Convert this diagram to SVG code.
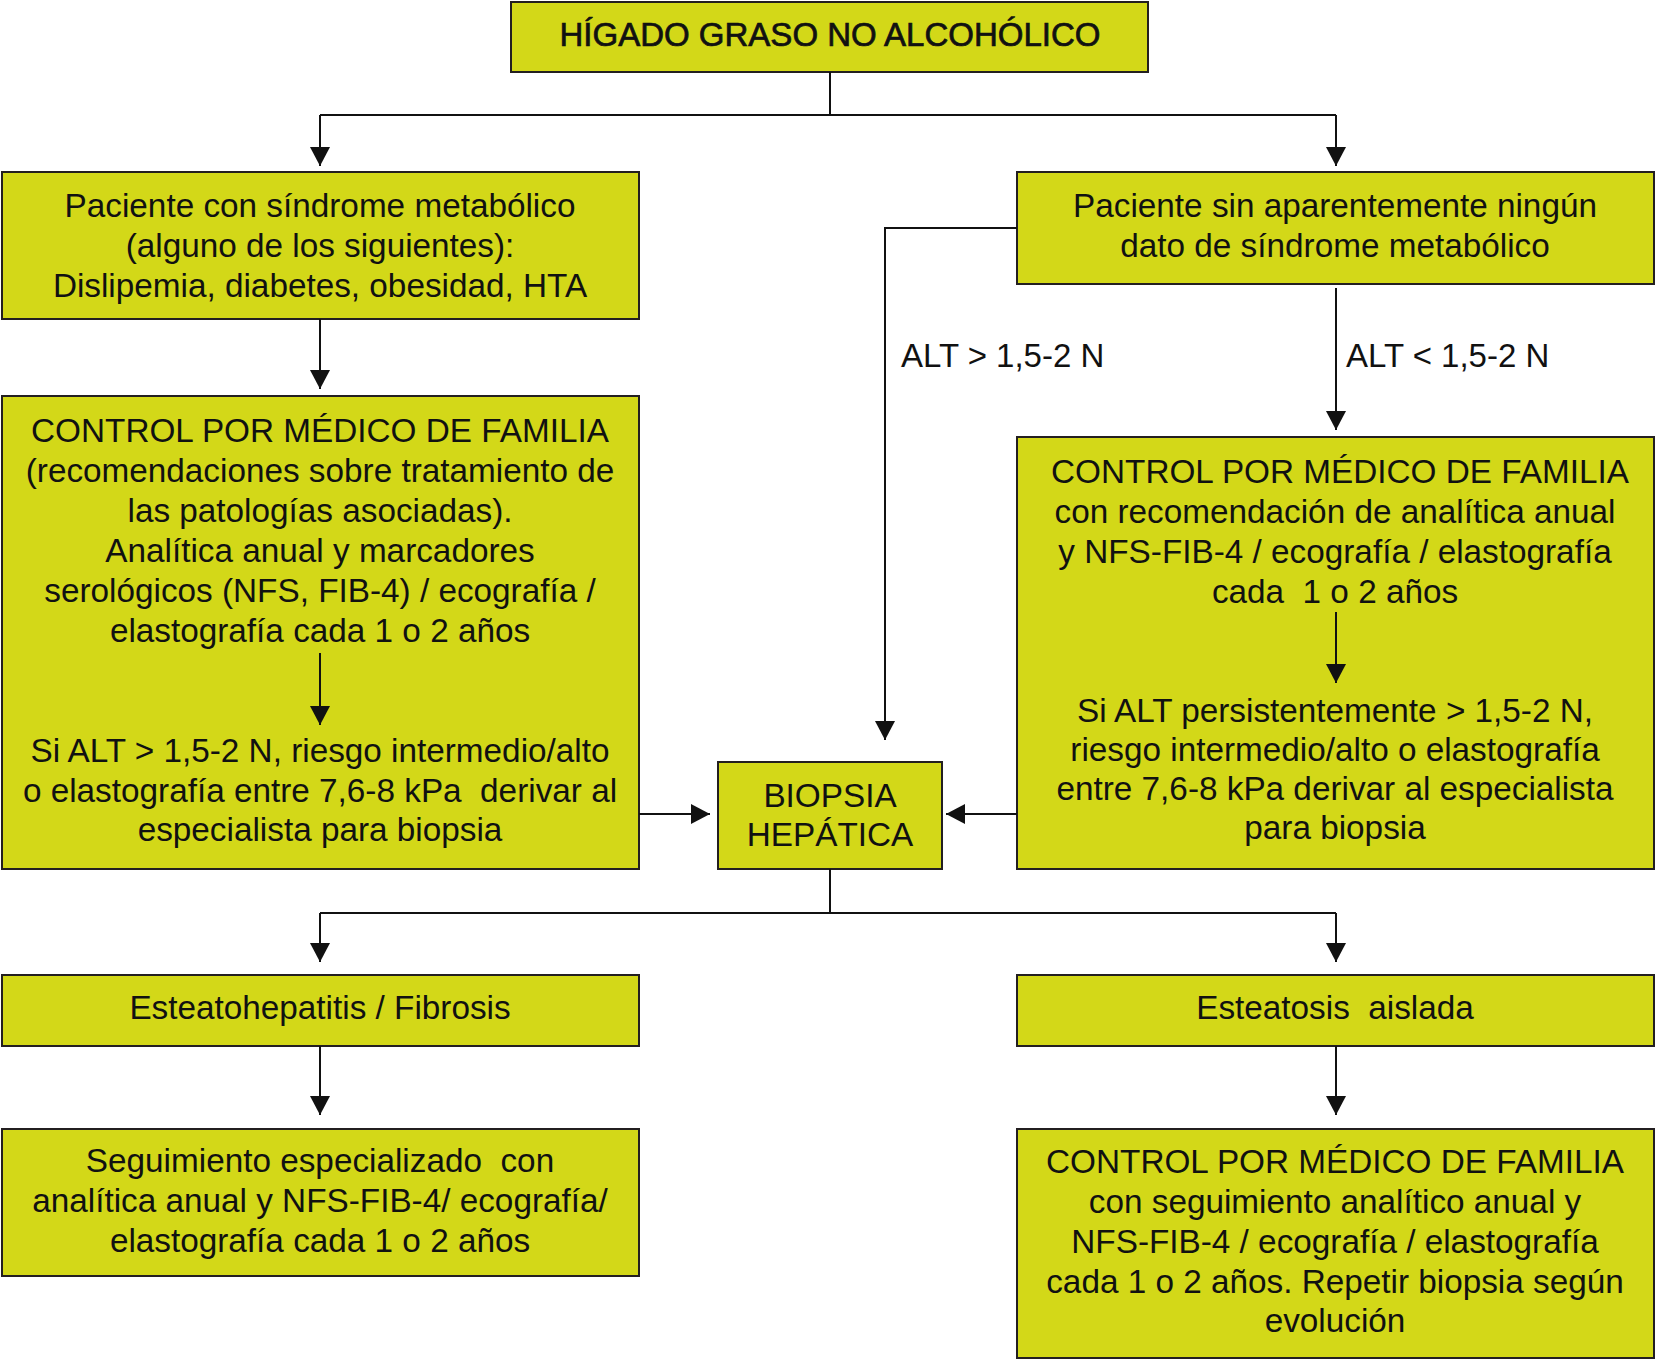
<svg xmlns="http://www.w3.org/2000/svg" width="1656" height="1360" viewBox="0 0 1656 1360">
<style>
.box{fill:#d3d818;stroke:#231f20;stroke-width:2}
.t{font-family:"Liberation Sans",Arial,sans-serif;font-size:33.3px;fill:#111;text-anchor:middle;white-space:pre}
.title{stroke:#111;stroke-width:0.7;font-size:33px}
.lbl{font-family:"Liberation Sans",Arial,sans-serif;font-size:33px;fill:#111}
.c{fill:none;stroke:#111;stroke-width:2}
</style>
<defs>
<marker id="ah" markerUnits="userSpaceOnUse" markerWidth="20" markerHeight="20" refX="19" refY="10" orient="auto">
<path d="M0,0 L19,10 L0,20 z" fill="#111"/>
</marker>
</defs>
<rect width="1656" height="1360" fill="#fff"/>
<g id="n_title">
<rect class="box" x="511" y="2" width="637" height="70"/>
<text class="t title" x="830" y="46">HÍGADO GRASO NO ALCOHÓLICO</text>
</g>
<g id="n_metabolico">
<rect class="box" x="2" y="172" width="637" height="147"/>
<text class="t" x="320" y="217">Paciente con síndrome metabólico</text>
<text class="t" x="320" y="257">(alguno de los siguientes):</text>
<text class="t" x="320" y="297">Dislipemia, diabetes, obesidad, HTA</text>
</g>
<g id="n_sin_metabolico">
<rect class="box" x="1017" y="172" width="637" height="112"/>
<text class="t" x="1335" y="217">Paciente sin aparentemente ningún</text>
<text class="t" x="1335" y="257">dato de síndrome metabólico</text>
</g>
<g id="n_control_left">
<rect class="box" x="2" y="396" width="637" height="473"/>
<text class="t" x="320" y="442">CONTROL POR MÉDICO DE FAMILIA</text>
<text class="t" x="320" y="482">(recomendaciones sobre tratamiento de</text>
<text class="t" x="320" y="522">las patologías asociadas).</text>
<text class="t" x="320" y="562">Analítica anual y marcadores</text>
<text class="t" x="320" y="602">serológicos (NFS, FIB-4) / ecografía /</text>
<text class="t" x="320" y="642">elastografía cada 1 o 2 años</text>
<text class="t" x="320" y="762">Si ALT &gt; 1,5-2 N, riesgo intermedio/alto</text>
<text class="t" x="320" y="802">o elastografía entre 7,6-8 kPa  derivar al</text>
<text class="t" x="320" y="841">especialista para biopsia</text>
</g>
<g id="n_control_right">
<rect class="box" x="1017" y="437" width="637" height="432"/>
<text class="t" x="1340" y="483">CONTROL POR MÉDICO DE FAMILIA</text>
<text class="t" x="1335" y="523">con recomendación de analítica anual</text>
<text class="t" x="1335" y="563">y NFS-FIB-4 / ecografía / elastografía</text>
<text class="t" x="1335" y="603">cada  1 o 2 años</text>
<text class="t" x="1335" y="722">Si ALT persistentemente &gt; 1,5-2 N,</text>
<text class="t" x="1335" y="761">riesgo intermedio/alto o elastografía</text>
<text class="t" x="1335" y="800">entre 7,6-8 kPa derivar al especialista</text>
<text class="t" x="1335" y="839">para biopsia</text>
</g>
<g id="n_biopsia">
<rect class="box" x="718" y="762" width="224" height="107"/>
<text class="t" x="830" y="807">BIOPSIA</text>
<text class="t" x="830" y="846">HEPÁTICA</text>
</g>
<g id="n_esteatohepatitis">
<rect class="box" x="2" y="975" width="637" height="71"/>
<text class="t" x="320" y="1019">Esteatohepatitis / Fibrosis</text>
</g>
<g id="n_esteatosis">
<rect class="box" x="1017" y="975" width="637" height="71"/>
<text class="t" x="1335" y="1019">Esteatosis  aislada</text>
</g>
<g id="n_seguimiento">
<rect class="box" x="2" y="1129" width="637" height="147"/>
<text class="t" x="320" y="1172">Seguimiento especializado  con</text>
<text class="t" x="320" y="1212">analítica anual y NFS-FIB-4/ ecografía/</text>
<text class="t" x="320" y="1252">elastografía cada 1 o 2 años</text>
</g>
<g id="n_control_bottom">
<rect class="box" x="1017" y="1129" width="637" height="229"/>
<text class="t" x="1335" y="1173">CONTROL POR MÉDICO DE FAMILIA</text>
<text class="t" x="1335" y="1213">con seguimiento analítico anual y</text>
<text class="t" x="1335" y="1253">NFS-FIB-4 / ecografía / elastografía</text>
<text class="t" x="1335" y="1293">cada 1 o 2 años. Repetir biopsia según</text>
<text class="t" x="1335" y="1332">evolución</text>
</g>
<g id="connectors">
<path class="c" d="M830,72 V115 M320,115 H1336"/>
<path class="c" d="M320,115 V166" marker-end="url(#ah)"/>
<path class="c" d="M1336,115 V166" marker-end="url(#ah)"/>
<path class="c" d="M320,319 V389" marker-end="url(#ah)"/>
<path class="c" d="M320,653 V725" marker-end="url(#ah)"/>
<path class="c" d="M1336,288 V430" marker-end="url(#ah)"/>
<path class="c" d="M1336,612 V683" marker-end="url(#ah)"/>
<path class="c" d="M1017,228 H885 V740" marker-end="url(#ah)"/>
<path class="c" d="M639,814 H710" marker-end="url(#ah)"/>
<path class="c" d="M1017,814 H946" marker-end="url(#ah)"/>
<path class="c" d="M830,869 V913 M320,913 H1336"/>
<path class="c" d="M320,913 V962" marker-end="url(#ah)"/>
<path class="c" d="M1336,913 V962" marker-end="url(#ah)"/>
<path class="c" d="M320,1046 V1115" marker-end="url(#ah)"/>
<path class="c" d="M1336,1046 V1115" marker-end="url(#ah)"/>
<text class="lbl" x="901" y="367">ALT &gt; 1,5-2 N</text>
<text class="lbl" x="1346" y="367">ALT &lt; 1,5-2 N</text>
</g>
</svg>
